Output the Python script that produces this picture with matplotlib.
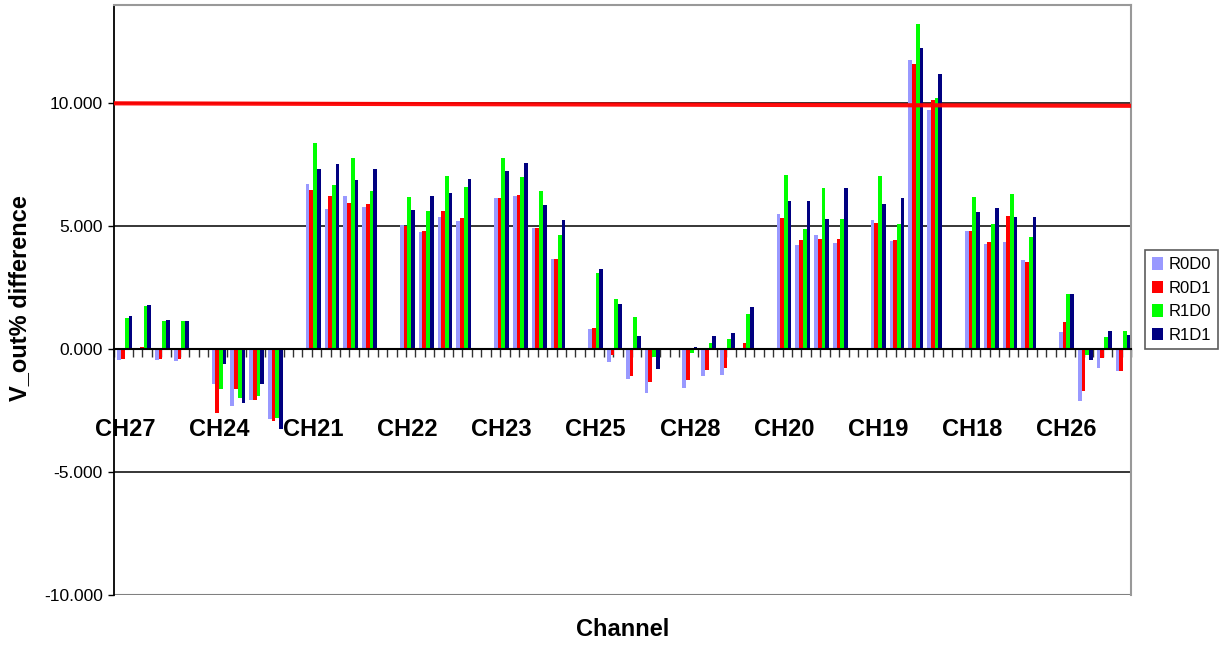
import numpy as np
import matplotlib.pyplot as plt
from matplotlib.patches import Patch

plt.rcParams['font.family'] = ['Liberation Sans', 'DejaVu Sans']

channels = ['CH27', 'CH24', 'CH21', 'CH22', 'CH23', 'CH25', 'CH28', 'CH20', 'CH19', 'CH18', 'CH26']
series_names = ['R0D0', 'R0D1', 'R1D0', 'R1D1']
colors = ['#9999FF', '#FF0000', '#00FF00', '#000080']

# 4 readings per channel, channels in the order above
r0d0 = [-0.46, -0.05, -0.46, -0.50,
        -1.40, -2.33, -2.05, -2.86,
        6.72, 5.70, 6.23, 5.78,
        5.05, 4.77, 5.38, 5.22,
        6.15, 6.23, 4.93, 3.67,
        0.82, -0.53, -1.22, -1.79,
        -1.58, -1.10, -1.06, 0.00,
        5.50, 4.24, 4.65, 4.32,
        5.26, 4.40, 11.76, 9.73,
        4.81, 4.28, 4.36, 3.63,
        0.70, -2.09, -0.77, -0.87]
r0d1 = [-0.39, 0.09, -0.42, -0.42,
        -2.58, -1.64, -2.05, -2.94,
        6.48, 6.23, 5.95, 5.90,
        5.01, 4.81, 5.62, 5.34,
        6.15, 6.27, 4.93, 3.67,
        0.85, -0.24, -1.09, -1.34,
        -1.26, -0.85, -0.77, 0.24,
        5.34, 4.44, 4.48, 4.48,
        5.14, 4.44, 11.60, 10.14,
        4.81, 4.36, 5.42, 3.55,
        1.11, -1.72, -0.37, -0.87]
r1d0 = [1.27, 1.77, 1.15, 1.15,
        -1.64, -1.97, -1.89, -2.78,
        8.39, 6.68, 7.77, 6.43,
        6.19, 5.62, 7.04, 6.60,
        7.77, 7.00, 6.43, 4.64,
        3.09, 2.03, 1.30, -0.32,
        -0.16, 0.24, 0.41, 1.42,
        7.09, 4.89, 6.56, 5.30,
        7.05, 5.09, 13.23, 10.22,
        6.19, 5.09, 6.31, 4.56,
        2.25, -0.24, 0.51, 0.72]
r1d1 = [1.35, 1.81, 1.19, 1.15,
        -0.62, -2.17, -1.40, -3.23,
        7.33, 7.53, 6.88, 7.33,
        5.66, 6.23, 6.36, 6.92,
        7.24, 7.57, 5.86, 5.25,
        3.25, 1.83, 0.53, -0.81,
        0.08, 0.53, 0.65, 1.71,
        6.03, 6.03, 5.30, 6.56,
        5.91, 6.15, 12.25, 11.19,
        5.58, 5.74, 5.38, 5.38,
        2.25, -0.45, 0.72, 0.58]
limit_line = [10.0, 9.9]

series = [r0d0, r0d1, r1d0, r1d1]

fig = plt.figure(figsize=(12.2, 6.45), dpi=100)
ax = fig.add_axes([114 / 1220, 1 - 595 / 645, 1017 / 1220, 590 / 645])

n_cat = 108
# each channel takes 10 category slots, 4 clusters 2 slots apart
centers = np.array([c * 10 + 2 * k + 1.15 for c in range(len(channels)) for k in range(4)])
w = 0.39
for i, (vals, col) in enumerate(zip(series, colors)):
    ax.bar(centers + (i - 1.5) * w, vals, width=w, color=col, edgecolor='none',
           antialiased=False, zorder=3)

ax.set_xlim(0, n_cat)
ax.set_ylim(-10, 14)

for y in [-5, 5, 10]:
    ax.axhline(y, color='black', lw=1.1, zorder=1)
ax.axhline(-10, color='#808080', lw=1.5, zorder=1)

ax.plot([0, n_cat], limit_line, color='#FF0000', lw=3, alpha=0.95, zorder=4)

ax.spines['bottom'].set_position(('data', 0))
ax.spines['bottom'].set_color('black')
ax.spines['bottom'].set_linewidth(1.5)
ax.spines['bottom'].set_zorder(5)
ax.spines['left'].set_color('black')
ax.spines['left'].set_linewidth(1.3)
ax.spines['top'].set_color('#999999')
ax.spines['right'].set_color('#999999')
ax.spines['top'].set_linewidth(1.5)
ax.spines['right'].set_linewidth(1.5)

ax.set_xticks(np.arange(0, n_cat + 1))
ax.set_xticklabels([])
ax.tick_params(axis='x', direction='out', length=6, width=1, color='#333333')

ax.set_yticks([-10, -5, 0, 5, 10])
ax.set_yticklabels(['%.3f' % v for v in [-10, -5, 0, 5, 10]], fontsize=12.5)
ax.tick_params(axis='y', direction='out', length=4, width=1, pad=4)

for c, name in enumerate(channels):
    ax.text(c * 10 + 1.15, -3.25, name, ha='center', va='center',
            fontsize=17, fontweight='bold', zorder=6)

fig.text(20 / 1220, 1 - 298 / 645, 'V_out% difference', rotation=90, ha='center', va='center',
         fontsize=17, fontweight='bold')
fig.text(623 / 1220, 1 - 630 / 645, 'Channel', ha='center', va='center',
         fontsize=17, fontweight='bold')

handles = [Patch(facecolor=col, edgecolor='none') for col in colors]
leg = ax.legend(handles, series_names, loc='center left', bbox_to_anchor=(1145 / 1220, 1 - 300 / 645),
                bbox_transform=fig.transFigure, fontsize=12, frameon=True, fancybox=False,
                edgecolor='#333333', handlelength=0.7, handleheight=0.8, handletextpad=0.3,
                labelspacing=0.5, borderpad=0.4, borderaxespad=0)
leg.get_frame().set_linewidth(1.2)

fig.savefig('out.png', dpi=100)
